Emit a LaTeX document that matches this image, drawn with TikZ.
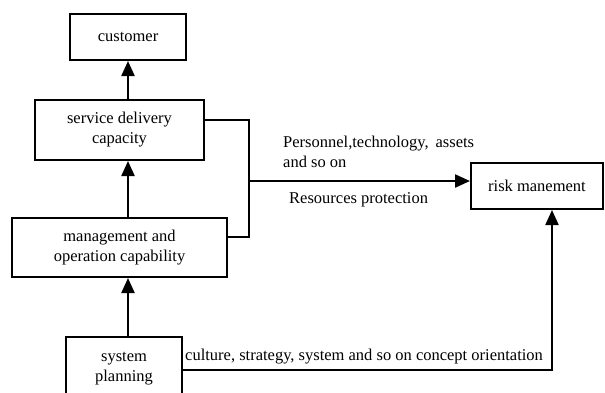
\documentclass[tikz,border=0pt]{standalone}
\usepackage{fontspec}
\setmainfont{Liberation Serif}
\usetikzlibrary{arrows.meta}
\begin{document}
\begin{tikzpicture}[x=1pt,y=-1pt,
  box/.style={draw,line width=2pt,align=center,inner sep=0pt,font=\fontsize{16.5}{20}\selectfont},
  lbl/.style={align=left,inner sep=0pt,anchor=west,font=\fontsize{16.5}{20}\selectfont},
  conn/.style={line width=2.2pt},
  arr/.style={line width=2.2pt,-{Triangle[length=15pt,width=13pt]}}]
\useasboundingbox[fill=white] (0,0) rectangle (605,392);
\node[box,minimum width=116pt,minimum height=46pt] (cust) at (128,37) {customer};
\node[box,minimum width=169pt,minimum height=60pt] (svc) at (119.5,130) {service delivery\\capacity};
\node[box,minimum width=215pt,minimum height=59pt] (mgmt) at (119.5,247.5) {management and\\operation capability};
\node[box,minimum width=116pt,minimum height=64pt] (sys) at (124,369) {system\\planning};
\node[box,minimum width=132pt,minimum height=46pt] (risk) at (537,186) {risk manement};
\coordinate (j1) at (249,120);
\coordinate (j2) at (249,237);
\coordinate (j3) at (249,181);
\coordinate (j4) at (552,370);
\draw[arr] (svc.north -| cust) -- (cust.south);
\draw[arr] (mgmt.north -| cust) -- (svc.south -| cust);
\draw[arr] (sys.north -| cust) -- (mgmt.south -| cust);
\draw[conn] (svc.east |- j1) -- (j1) -- (j2) -- (mgmt.east |- j2);
\draw[arr] (j3) -- (risk.west |- j3);
\draw[arr] (sys.east |- j4) -- (j4) -- (risk.south -| j4);
\node[lbl] (l1) at (283,152) {Personnel,technology,\, assets\\and so on};
\node[lbl] (l2) at (289,200) {Resources protection};
\node[lbl] (l3) at (185,357) {culture, strategy, system and so on concept orientation};
\end{tikzpicture}
\end{document}
